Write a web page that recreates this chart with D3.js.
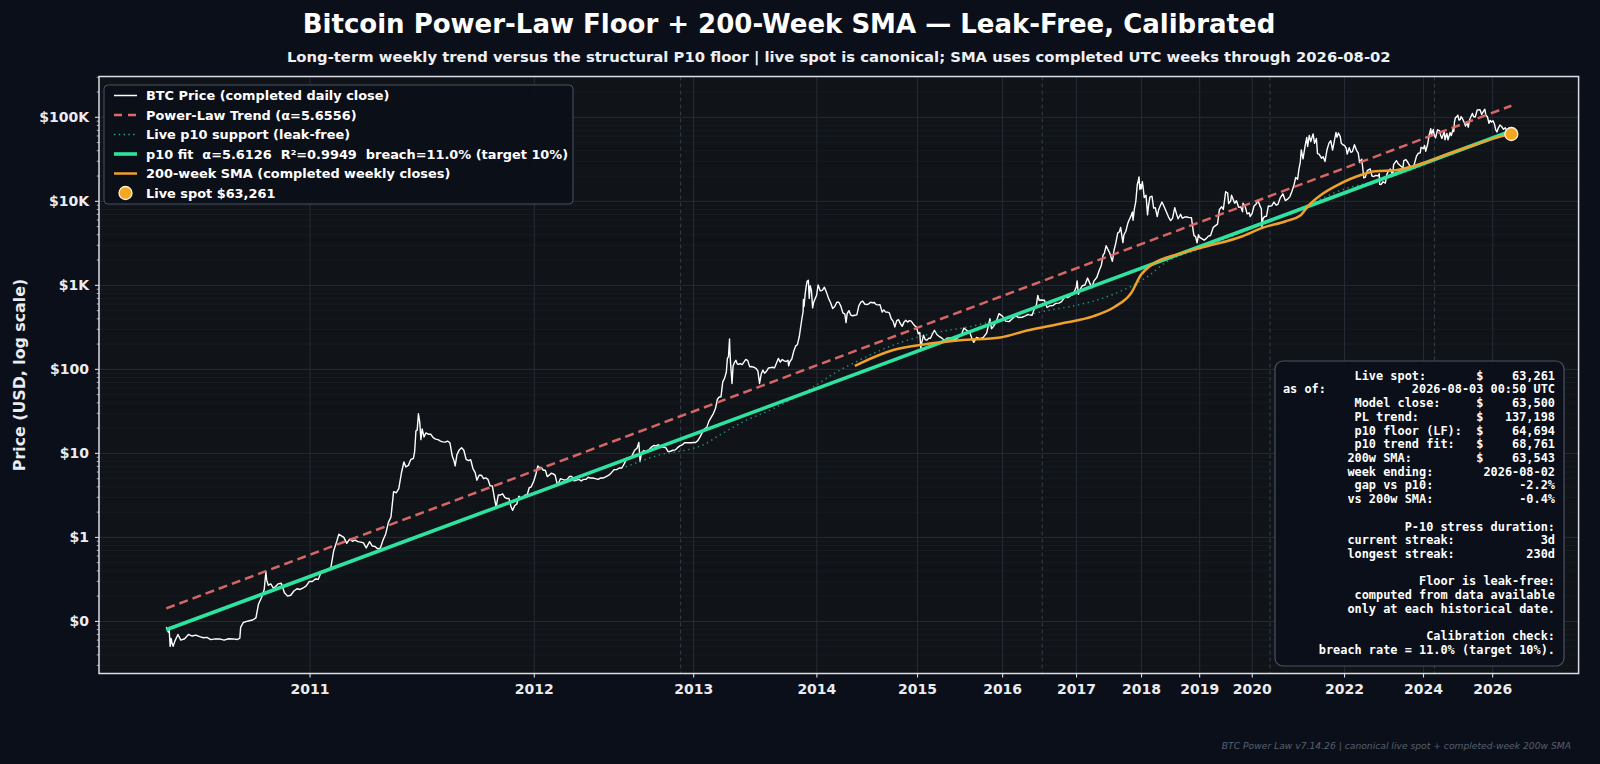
<!DOCTYPE html>
<html><head><meta charset="utf-8">
<script src="https://cdn.jsdelivr.net/npm/d3@7"></script>
<style>
body{margin:0;background:#0b0f19;}
svg{display:block;}
text{font-family:"DejaVu Sans",sans-serif;}
.mono{font-family:"DejaVu Sans Mono",monospace;}
</style>
</head><body>
<svg id="c" width="1600" height="764"></svg>
<script>
// ---------------- DATA ----------------
const genesisDate = "2009-01-03";
const spotDate = "2026-08-03";
const spotValue = 63261;

const btcPrice = [
["2010-07-18",0.0858],["2010-07-19",0.0808],["2010-07-20",0.0747],["2010-07-21",0.0792],["2010-07-22",0.0505],["2010-07-23",0.0626],["2010-07-24",0.0545],["2010-07-25",0.0505],["2010-07-27",0.0589],["2010-07-30",0.0699],["2010-08-02",0.0600],["2010-08-06",0.0622],["2010-08-10",0.0700],["2010-08-14",0.0670],["2010-08-18",0.0688],["2010-08-22",0.0660],["2010-08-26",0.0640],["2010-08-30",0.0645],["2010-09-03",0.0608],["2010-09-08",0.0620],["2010-09-13",0.0619],["2010-09-18",0.0600],["2010-09-23",0.0622],["2010-09-28",0.0619],["2010-10-03",0.0610],["2010-10-06",0.0630],["2010-10-07",0.0850],["2010-10-10",0.0970],["2010-10-14",0.1000],["2010-10-17",0.1020],["2010-10-21",0.1040],["2010-10-25",0.1100],["2010-10-28",0.1600],["2010-11-01",0.1950],["2010-11-04",0.2400],["2010-11-06",0.3900],["2010-11-07",0.3100],["2010-11-09",0.2700],["2010-11-12",0.2800],["2010-11-15",0.2500],["2010-11-18",0.2600],["2010-11-21",0.2800],["2010-11-25",0.2850],["2010-11-29",0.2200],["2010-12-03",0.2000],["2010-12-07",0.2050],["2010-12-11",0.2300],["2010-12-15",0.2450],["2010-12-19",0.2400],["2010-12-23",0.2500],["2010-12-27",0.2650],["2010-12-31",0.3000],
["2011-01-04",0.2990],["2011-01-08",0.3200],["2011-01-12",0.3180],["2011-01-16",0.3900],["2011-01-20",0.4000],["2011-01-25",0.4100],["2011-01-29",0.4400],["2011-02-02",0.7000],["2011-02-06",0.8900],["2011-02-09",1.0900],["2011-02-12",1.0500],["2011-02-16",1.0000],["2011-02-20",0.8500],["2011-02-24",0.9500],["2011-02-28",0.9000],["2011-03-04",0.9300],["2011-03-08",0.8900],["2011-03-12",0.8800],["2011-03-16",0.8600],["2011-03-20",0.7500],["2011-03-25",0.8900],["2011-03-29",0.7900],["2011-04-02",0.7800],["2011-04-06",0.7300],["2011-04-10",0.7500],["2011-04-14",0.9300],["2011-04-18",1.1000],["2011-04-22",1.5000],["2011-04-26",1.7500],["2011-04-30",3.5000],["2011-05-04",3.4000],["2011-05-08",3.8000],["2011-05-12",5.8000],["2011-05-16",7.9000],["2011-05-19",6.9000],["2011-05-23",7.2000],["2011-05-27",8.5000],["2011-05-31",8.7000],["2011-06-02",10.600],["2011-06-04",18.500],["2011-06-06",18.900],["2011-06-08",29.600],["2011-06-10",23.900],["2011-06-12",14.600],["2011-06-14",19.600],["2011-06-17",15.700],["2011-06-20",17.500],["2011-06-24",16.900],["2011-06-28",16.900],["2011-07-02",15.400],["2011-07-06",14.800],["2011-07-10",14.600],["2011-07-14",14.000],["2011-07-18",13.700],["2011-07-22",13.600],["2011-07-26",14.000],["2011-07-30",13.400],["2011-08-03",9.300],["2011-08-06",8.200],["2011-08-08",7.100],["2011-08-11",9.600],["2011-08-15",11.000],["2011-08-19",11.700],["2011-08-23",10.900],["2011-08-27",8.500],["2011-08-31",8.200],["2011-09-04",8.400],["2011-09-08",6.600],["2011-09-12",5.900],["2011-09-15",4.800],["2011-09-19",5.500],["2011-09-23",5.500],["2011-09-27",5.000],["2011-10-01",5.100],["2011-10-05",4.900],["2011-10-09",4.100],["2011-10-13",4.100],["2011-10-17",2.900],["2011-10-20",2.300],["2011-10-24",3.200],["2011-10-28",3.200],["2011-11-01",3.300],["2011-11-05",3.000],["2011-11-09",2.900],["2011-11-13",2.900],["2011-11-17",2.300],["2011-11-20",2.100],["2011-11-24",2.400],["2011-11-28",2.500],["2011-12-02",3.100],["2011-12-06",2.900],["2011-12-10",3.000],["2011-12-14",3.200],["2011-12-18",3.200],["2011-12-22",3.900],["2011-12-26",4.000],["2011-12-31",4.700],
["2012-01-04",5.6],["2012-01-08",7.1],["2012-01-11",6.8],["2012-01-15",6.8],["2012-01-19",6.3],["2012-01-23",6.3],["2012-01-27",5.3],["2012-01-31",5.5],["2012-02-04",5.8],["2012-02-08",5.7],["2012-02-12",5.5],["2012-02-16",4.4],["2012-02-19",4.4],["2012-02-23",5.0],["2012-02-27",4.9],["2012-03-03",4.8],["2012-03-08",4.9],["2012-03-13",5.3],["2012-03-18",5.3],["2012-03-23",4.7],["2012-03-28",4.8],["2012-04-02",4.9],["2012-04-07",4.7],["2012-04-12",4.9],["2012-04-17",4.9],["2012-04-22",5.2],["2012-04-27",5.1],["2012-05-02",5.1],["2012-05-08",5.0],["2012-05-14",4.9],["2012-05-20",5.1],["2012-05-26",5.1],["2012-06-01",5.3],["2012-06-07",5.5],["2012-06-13",5.9],["2012-06-19",6.4],["2012-06-25",6.4],["2012-07-01",6.7],["2012-07-07",6.7],["2012-07-13",7.6],["2012-07-19",8.9],["2012-07-25",8.6],["2012-07-31",9.4],["2012-08-06",10.9],["2012-08-12",11.6],["2012-08-16",13.5],["2012-08-19",8.0],["2012-08-22",10.1],["2012-08-28",10.8],["2012-09-03",10.4],["2012-09-09",11.0],["2012-09-15",11.8],["2012-09-21",12.4],["2012-09-27",12.3],["2012-10-03",12.7],["2012-10-09",11.9],["2012-10-15",11.8],["2012-10-21",11.7],["2012-10-27",10.5],["2012-11-02",10.6],["2012-11-08",10.9],["2012-11-14",11.0],["2012-11-20",11.7],["2012-11-26",12.3],["2012-12-02",12.6],["2012-12-08",13.4],["2012-12-14",13.4],["2012-12-20",13.4],["2012-12-26",13.4],["2012-12-31",13.5],
["2013-01-06",13.5],["2013-01-12",14.2],["2013-01-18",15.7],["2013-01-24",17.8],["2013-01-30",19.6],["2013-02-05",20.4],["2013-02-11",24.2],["2013-02-17",26.8],["2013-02-23",29.8],["2013-03-01",34.5],["2013-03-06",44.0],["2013-03-11",46.9],["2013-03-16",47.0],["2013-03-21",70.9],["2013-03-26",78.0],["2013-03-31",93.0],["2013-04-03",135],["2013-04-06",142],["2013-04-09",230],["2013-04-10",165],["2013-04-12",117],["2013-04-14",90],["2013-04-16",68],["2013-04-19",110],["2013-04-23",121],["2013-04-27",128],["2013-05-01",116],["2013-05-05",115],["2013-05-10",117],["2013-05-15",114],["2013-05-20",122],["2013-05-25",131],["2013-05-31",128],["2013-06-06",107],["2013-06-12",108],["2013-06-18",106],["2013-06-24",103],["2013-06-30",96],["2013-07-05",68],["2013-07-10",88],["2013-07-15",98],["2013-07-20",90],["2013-07-26",95],["2013-08-01",104],["2013-08-07",105],["2013-08-13",106],["2013-08-19",104],["2013-08-25",118],["2013-08-31",135],["2013-09-06",122],["2013-09-12",131],["2013-09-18",126],["2013-09-24",124],["2013-09-30",128],["2013-10-02",110],["2013-10-06",124],["2013-10-12",133],["2013-10-18",164],["2013-10-24",189],["2013-10-30",198],["2013-11-05",248],["2013-11-10",335],["2013-11-14",420],["2013-11-17",485],["2013-11-18",680],["2013-11-20",560],["2013-11-24",800],["2013-11-27",970],["2013-11-30",1120],["2013-12-04",1150],["2013-12-07",700],["2013-12-10",990],["2013-12-14",870],["2013-12-18",540],["2013-12-21",620],["2013-12-25",680],["2013-12-31",760],
["2014-01-05",1010],["2014-01-12",860],["2014-01-19",870],["2014-01-26",950],["2014-02-02",830],["2014-02-09",700],["2014-02-16",620],["2014-02-23",530],["2014-03-02",560],["2014-03-09",630],["2014-03-16",630],["2014-03-23",565],["2014-03-30",470],["2014-04-06",455],["2014-04-10",360],["2014-04-14",460],["2014-04-20",500],["2014-04-27",440],["2014-05-04",435],["2014-05-11",440],["2014-05-18",445],["2014-05-25",570],["2014-06-01",630],["2014-06-08",650],["2014-06-15",600],["2014-06-22",590],["2014-06-29",600],["2014-07-06",630],["2014-07-13",620],["2014-07-20",625],["2014-07-27",590],["2014-08-03",585],["2014-08-10",590],["2014-08-18",480],["2014-08-24",510],["2014-08-31",480],["2014-09-07",480],["2014-09-14",470],["2014-09-21",400],["2014-09-28",375],["2014-10-05",320],["2014-10-12",380],["2014-10-19",390],["2014-10-26",350],["2014-11-02",325],["2014-11-09",365],["2014-11-16",385],["2014-11-23",365],["2014-11-30",380],["2014-12-07",375],["2014-12-14",350],["2014-12-21",330],["2014-12-28",318],
["2015-01-04",265],["2015-01-10",275],["2015-01-14",178],["2015-01-18",210],["2015-01-25",255],["2015-02-01",225],["2015-02-08",223],["2015-02-15",235],["2015-02-22",235],["2015-03-01",260],["2015-03-10",292],["2015-03-20",260],["2015-03-31",245],["2015-04-10",235],["2015-04-20",222],["2015-05-01",235],["2015-05-15",237],["2015-06-01",223],["2015-06-15",237],["2015-07-01",258],["2015-07-12",310],["2015-07-25",290],["2015-08-05",280],["2015-08-18",225],["2015-08-24",210],["2015-09-05",240],["2015-09-20",232],["2015-10-05",240],["2015-10-20",270],["2015-11-04",400],["2015-11-11",305],["2015-11-20",325],["2015-12-01",360],["2015-12-15",460],["2015-12-31",430],
["2016-01-15",375],["2016-01-31",370],["2016-02-15",400],["2016-03-01",435],["2016-03-15",415],["2016-04-01",417],["2016-04-15",430],["2016-05-01",450],["2016-05-20",440],["2016-06-01",535],["2016-06-10",580],["2016-06-17",760],["2016-06-24",665],["2016-07-05",670],["2016-07-20",665],["2016-08-02",545],["2016-08-15",570],["2016-09-01",575],["2016-09-15",610],["2016-10-01",615],["2016-10-15",640],["2016-11-01",730],["2016-11-15",715],["2016-12-01",755],["2016-12-15",780],["2016-12-31",965],
["2017-01-04",1130],["2017-01-11",780],["2017-01-20",895],["2017-02-01",990],["2017-02-15",1010],["2017-03-01",1220],["2017-03-10",1100],["2017-03-24",935],["2017-04-05",1130],["2017-04-20",1240],["2017-05-05",1530],["2017-05-15",1720],["2017-05-25",2300],["2017-06-01",2400],["2017-06-11",2960],["2017-06-20",2700],["2017-07-01",2430],["2017-07-16",1930],["2017-07-25",2600],["2017-08-05",3230],["2017-08-15",4180],["2017-08-25",4350],["2017-09-01",4900],["2017-09-14",3230],["2017-09-20",4000],["2017-10-01",4400],["2017-10-12",5440],["2017-10-20",6000],["2017-11-01",6750],["2017-11-08",7460],["2017-11-12",5950],["2017-11-20",8200],["2017-11-28",9900],["2017-12-07",16000],["2017-12-12",17300],["2017-12-17",19500],["2017-12-22",13800],["2017-12-27",15800],["2017-12-31",14150],
["2018-01-06",17100],["2018-01-12",13900],["2018-01-17",11100],["2018-01-28",11800],["2018-02-06",6900],["2018-02-12",8900],["2018-02-20",11200],["2018-03-05",11500],["2018-03-15",8300],["2018-03-25",8400],["2018-04-06",6600],["2018-04-15",8000],["2018-04-25",8900],["2018-05-05",9800],["2018-05-20",8500],["2018-06-01",7500],["2018-06-15",6500],["2018-06-28",5900],["2018-07-10",6300],["2018-07-24",8400],["2018-08-05",7000],["2018-08-14",6200],["2018-08-30",7000],["2018-09-10",6300],["2018-09-25",6500],["2018-10-10",6500],["2018-10-25",6400],["2018-11-08",6400],["2018-11-20",4400],["2018-11-25",3900],["2018-12-05",3800],["2018-12-15",3200],["2018-12-24",4000],["2018-12-31",3740],
["2019-01-15",3600],["2019-01-31",3450],["2019-02-15",3620],["2019-02-28",3850],["2019-03-15",3920],["2019-04-02",4900],["2019-04-15",5100],["2019-05-01",5350],["2019-05-14",8000],["2019-05-30",8600],["2019-06-10",8000],["2019-06-26",13000],["2019-07-10",12500],["2019-07-17",9400],["2019-07-31",10100],["2019-08-06",11800],["2019-08-28",9500],["2019-09-10",10150],["2019-09-25",8500],["2019-10-10",8600],["2019-10-23",7500],["2019-10-26",9500],["2019-11-10",8800],["2019-11-25",7100],["2019-12-10",7300],["2019-12-17",6600],["2019-12-31",7200],
["2020-01-14",8800],["2020-01-31",9350],["2020-02-12",10300],["2020-02-28",8700],["2020-03-08",8100],["2020-03-12",4970],["2020-03-20",6200],["2020-04-01",6600],["2020-04-15",6650],["2020-04-29",8800],["2020-05-10",8700],["2020-05-25",8900],["2020-06-10",9800],["2020-06-27",9000],["2020-07-10",9200],["2020-07-28",11000],["2020-08-17",12300],["2020-09-05",10200],["2020-09-25",10700],["2020-10-10",11300],["2020-10-25",13000],["2020-11-10",15300],["2020-11-25",19200],["2020-12-10",18300],["2020-12-20",24000],["2020-12-31",29000],
["2021-01-08",41000],["2021-01-22",32000],["2021-02-08",46000],["2021-02-21",57500],["2021-02-28",45000],["2021-03-13",61000],["2021-03-25",51500],["2021-04-13",63500],["2021-04-25",49000],["2021-05-10",56000],["2021-05-19",37000],["2021-06-01",36500],["2021-06-22",32500],["2021-07-05",34000],["2021-07-20",29800],["2021-08-05",40800],["2021-08-22",49300],["2021-09-06",52600],["2021-09-21",40700],["2021-10-05",51500],["2021-10-20",66000],["2021-10-28",58000],["2021-11-10",65000],["2021-11-25",58900],["2021-12-04",49000],["2021-12-20",46800],["2021-12-31",46300],
["2022-01-15",43000],["2022-01-24",36500],["2022-02-10",43500],["2022-02-24",38300],["2022-03-10",39000],["2022-03-28",47100],["2022-04-15",40500],["2022-04-30",37700],["2022-05-12",29000],["2022-05-31",31800],["2022-06-13",22500],["2022-06-18",19000],["2022-07-01",19300],["2022-07-20",23200],["2022-08-15",24300],["2022-08-31",20000],["2022-09-15",19700],["2022-10-05",20300],["2022-10-25",20100],["2022-11-05",21300],["2022-11-09",15900],["2022-11-21",15800],["2022-12-10",17100],["2022-12-31",16500],
["2023-01-14",20900],["2023-01-31",23100],["2023-02-16",24300],["2023-03-10",20200],["2023-03-18",27400],["2023-04-14",30500],["2023-05-01",28000],["2023-05-25",26300],["2023-06-15",25000],["2023-06-23",30600],["2023-07-13",31400],["2023-07-31",29200],["2023-08-17",26600],["2023-09-11",25100],["2023-09-30",27000],["2023-10-24",34500],["2023-11-10",37300],["2023-11-30",37700],["2023-12-08",44000],["2023-12-31",42300],
["2024-01-11",46300],["2024-01-23",39500],["2024-02-10",47100],["2024-02-28",62500],["2024-03-14",73100],["2024-03-20",62000],["2024-04-08",71600],["2024-04-17",61300],["2024-05-01",57000],["2024-05-21",71000],["2024-06-10",69500],["2024-06-24",60300],["2024-07-05",56000],["2024-07-29",68000],["2024-08-05",54000],["2024-08-25",64200],["2024-09-06",53900],["2024-09-27",65800],["2024-10-10",60500],["2024-10-29",72500],["2024-11-05",67800],["2024-11-12",88000],["2024-11-22",98900],["2024-12-05",101000],["2024-12-17",106000],["2024-12-30",92700],
["2025-01-13",94500],["2025-01-20",102000],["2025-02-03",97500],["2025-02-28",84300],["2025-03-10",78500],["2025-03-24",87500],["2025-04-08",76300],["2025-04-22",93500],["2025-05-22",111000],["2025-06-05",101500],["2025-06-22",101000],["2025-07-14",122000],["2025-08-13",123500],["2025-09-01",108000],["2025-09-18",117000],["2025-10-06",124700],["2025-10-17",106500],["2025-11-04",101000],["2025-11-21",85000],["2025-12-05",92000],["2025-12-20",88000],
["2026-01-05",91000],["2026-01-20",84000],["2026-02-05",71000],["2026-02-19",67000],["2026-03-05",74000],["2026-03-25",81000],["2026-04-15",77000],["2026-05-05",72000],["2026-05-25",75000],["2026-06-15",68000],["2026-07-05",70000],["2026-07-20",65500],["2026-08-02",63500]
];

// power-law trend lines (straight on log-log), endpoints
const plTrend = [["2010-07-18",0.143],["2026-08-03",137198]];
const p10Fit  = [["2010-07-18",0.0795],["2026-08-03",68761]];

// live (leak-free) p10 support
const p10Support = [
["2012-07-16",6.9],["2012-10-06",9.6],["2012-12-31",11.5],["2013-01-26",12.6],["2013-03-13",16.6],["2013-05-29",25],["2013-08-15",34],["2013-10-16",45],["2013-12-21",62],["2014-03-01",90],["2014-05-30",130],["2014-09-01",180],["2014-12-30",240],["2015-04-01",280],["2015-08-01",320],["2015-12-01",380],["2016-04-01",430],["2016-08-01",500],["2016-12-01",560],["2017-04-01",650],["2017-08-01",800],["2017-12-01",1050],["2018-02-01",1250],["2018-06-01",1900],["2019-01-01",2700],["2020-01-01",4800],["2021-01-01",8300],["2022-01-01",14000],["2023-01-01",18500],["2024-01-01",27000],["2025-01-01",40000],["2026-01-01",57000],["2026-08-03",64694]
];

// 200-week SMA of completed weekly closes
const sma200w = [
["2014-05-11",110],["2014-05-30",118],["2014-09-29",170],["2015-02-07",200],["2015-06-25",222],["2015-12-21",240],["2016-04-26",290],["2016-10-08",350],["2017-04-03",430],["2017-08-01",560],["2017-10-30",800],["2017-12-30",1343],["2018-03-02",1750],["2018-08-20",2370],["2019-02-17",2913],["2019-10-12",3790],["2020-03-10",4800],["2020-09-09",5800],["2020-12-25",6680],["2021-03-18",9290],["2021-06-10",11760],["2021-11-02",15630],["2022-05-29",20740],["2022-09-29",22770],["2023-04-09",23430],["2023-09-20",26240],["2024-02-03",29380],["2024-09-02",36560],["2025-06-21",47200],["2026-02-05",56900],["2026-08-02",63543]
];

const yTickValues = [0.1, 1, 10, 100, 1000, 10000, 100000];
const yTickLabels = ["$0","$1","$10","$100","$1K","$10K","$100K"];
const yearTicks = ["2011","2012","2013","2014","2015","2016","2017","2018","2019","2020","2022","2024","2026"];
const halvings = ["2012-11-28","2016-07-09","2020-05-11","2024-04-20"];
const yLimits = [0.024, 306000];

const legendLabels = [
 "BTC Price (completed daily close)",
 "Power-Law Trend (α=5.6556)",
 "Live p10 support (leak-free)",
 "p10 fit  α=5.6126  R²=0.9949  breach=11.0% (target 10%)",
 "200-week SMA (completed weekly closes)",
 "Live spot $63,261"
];

const infoLines = [
"Live spot:       $    63,261",
"as of:            2026-08-03 00:50 UTC",
"Model close:     $    63,500",
"PL trend:        $   137,198",
"p10 floor (LF):  $    64,694",
"p10 trend fit:   $    68,761",
"200w SMA:         $    63,543",
"week ending:       2026-08-02",
"gap vs p10:            -2.2%",
"vs 200w SMA:            -0.4%",
"",
"P-10 stress duration:",
"current streak:            3d",
"longest streak:          230d",
"",
"Floor is leak-free:",
"computed from data available",
"only at each historical date.",
"",
"Calibration check:",
"breach rate = 11.0% (target 10%)."
];

const titleText = "Bitcoin Power-Law Floor + 200-Week SMA — Leak-Free, Calibrated";
const subtitleText = "Long-term weekly trend versus the structural P10 floor | live spot is canonical; SMA uses completed UTC weeks through 2026-08-02";
const footerText = "BTC Power Law v7.14.26 | canonical live spot + completed-week 200w SMA";

// ---------------- CHART ----------------
const W = 1600, H = 764;
const M = {l: 99, r: 1578.6, t: 76.5, b: 673.5};
const C = {
  fig: "#0b0f19", plot: "#101418", spine: "#d9dde5",
  gridMajor: "#262c37", gridMinor: "#181d25", halving: "#363d4a",
  price: "#ffffff", pl: "#e06a6a", p10s: "#2aa88e", p10f: "#2ee39f", sma: "#f0a12c", spot: "#f5a623"
};
const g0 = Date.UTC(2009,0,3);
const dayNum = s => (Date.parse(s + "T00:00:00Z") - g0) / 864e5;

const svg = d3.select("#c");
svg.append("rect").attr("width", W).attr("height", H).attr("fill", C.fig);
svg.append("rect").attr("x", M.l).attr("y", M.t).attr("width", M.r - M.l).attr("height", M.b - M.t).attr("fill", C.plot);

const allDays = btcPrice.map(d => dayNum(d[0])).concat([dayNum(spotDate)]);
const lo = Math.log10(d3.min(allDays)), hi = Math.log10(d3.max(allDays));
const pad = (hi - lo) * 0.05;
const x = d3.scaleLog().domain([10 ** (lo - pad), 10 ** (hi + pad)]).range([M.l, M.r]);
const y = d3.scaleLog().domain(yLimits).range([M.b, M.t]);

svg.append("defs").append("clipPath").attr("id", "clip")
  .append("rect").attr("x", M.l).attr("y", M.t).attr("width", M.r - M.l).attr("height", M.b - M.t);

// minor + major horizontal grid
const minorVals = [];
for (let e = -2; e <= 5; e++) for (let k = 2; k <= 9; k++) {
  const v = k * 10 ** e; if (v > yLimits[0] && v < yLimits[1]) minorVals.push(v);
}
const grid = svg.append("g");
grid.selectAll(".mn").data(minorVals).join("line")
  .attr("x1", M.l).attr("x2", M.r).attr("y1", d => y(d)).attr("y2", d => y(d))
  .attr("stroke", C.gridMinor).attr("stroke-width", 0.8);
grid.selectAll(".mj").data(yTickValues).join("line")
  .attr("x1", M.l).attr("x2", M.r).attr("y1", d => y(d)).attr("y2", d => y(d))
  .attr("stroke", C.gridMajor).attr("stroke-width", 1);
grid.selectAll(".vx").data(yearTicks).join("line")
  .attr("x1", d => x(dayNum(d + "-01-01"))).attr("x2", d => x(dayNum(d + "-01-01")))
  .attr("y1", M.t).attr("y2", M.b).attr("stroke", C.gridMajor).attr("stroke-width", 1);
grid.selectAll(".hv").data(halvings).join("line")
  .attr("x1", d => x(dayNum(d))).attr("x2", d => x(dayNum(d)))
  .attr("y1", M.t).attr("y2", M.b).attr("stroke", C.halving).attr("stroke-width", 1)
  .attr("stroke-dasharray", "4,3");

// series
const line = d3.line().x(d => x(dayNum(d[0]))).y(d => y(d[1]));
const smooth = d3.line().x(d => x(dayNum(d[0]))).y(d => y(d[1])).curve(d3.curveMonotoneX);
const plot = svg.append("g").attr("clip-path", "url(#clip)");

plot.append("path").datum(btcPrice).attr("d", line).attr("fill", "none")
  .attr("stroke", C.price).attr("stroke-width", 1.4).attr("stroke-linejoin", "round");
plot.append("path").datum(plTrend).attr("d", line).attr("fill", "none")
  .attr("stroke", C.pl).attr("stroke-width", 2.5).attr("stroke-dasharray", "9,5").attr("opacity", 0.95);
plot.append("path").datum(p10Support).attr("d", smooth).attr("fill", "none")
  .attr("stroke", C.p10s).attr("stroke-width", 1.4).attr("stroke-dasharray", "1.4,3.6").attr("opacity", 0.85);
plot.append("path").datum(p10Fit).attr("d", line).attr("fill", "none")
  .attr("stroke", C.p10f).attr("stroke-width", 3.6);
plot.append("path").datum(sma200w).attr("d", smooth).attr("fill", "none")
  .attr("stroke", C.sma).attr("stroke-width", 2.5);
plot.append("circle").attr("cx", x(dayNum(spotDate))).attr("cy", y(spotValue)).attr("r", 6.5)
  .attr("fill", C.spot).attr("stroke", "#fff3d6").attr("stroke-width", 1.3);

// spines
svg.append("rect").attr("x", M.l).attr("y", M.t).attr("width", M.r - M.l).attr("height", M.b - M.t)
  .attr("fill", "none").attr("stroke", C.spine).attr("stroke-width", 1.5);

// y ticks
const ax = svg.append("g");
ax.selectAll(".ymt").data(minorVals).join("line")
  .attr("x1", M.l - 2.2).attr("x2", M.l).attr("y1", d => y(d)).attr("y2", d => y(d))
  .attr("stroke", C.spine).attr("stroke-width", 0.8);
ax.selectAll(".yMt").data(yTickValues).join("line")
  .attr("x1", M.l - 4).attr("x2", M.l).attr("y1", d => y(d)).attr("y2", d => y(d))
  .attr("stroke", C.spine).attr("stroke-width", 1.1);
ax.selectAll(".ytl").data(yTickValues).join("text")
  .attr("x", M.l - 10).attr("y", d => y(d)).attr("dy", "0.35em").attr("text-anchor", "end")
  .attr("fill", "#e9ecf1").attr("font-size", 14).attr("font-weight", "bold")
  .text((d, i) => yTickLabels[i]);

// x ticks
ax.selectAll(".xt").data(yearTicks).join("line")
  .attr("x1", d => x(dayNum(d + "-01-01"))).attr("x2", d => x(dayNum(d + "-01-01")))
  .attr("y1", M.b).attr("y2", M.b + 4).attr("stroke", C.spine).attr("stroke-width", 1.1);
ax.selectAll(".xtl").data(yearTicks).join("text")
  .attr("x", d => x(dayNum(d + "-01-01"))).attr("y", M.b + 20).attr("text-anchor", "middle")
  .attr("fill", "#e9ecf1").attr("font-size", 14).attr("font-weight", "bold").text(d => d);

// axis label
svg.append("text").attr("transform", `translate(25,${(M.t + M.b) / 2}) rotate(-90)`)
  .attr("text-anchor", "middle").attr("fill", "#e9ecf1").attr("font-size", 15.8).attr("font-weight", "bold")
  .text("Price (USD, log scale)");

// titles
svg.append("text").attr("x", 789).attr("y", 33).attr("text-anchor", "middle")
  .attr("fill", "#ffffff").attr("font-size", 26).attr("font-weight", "bold").text(titleText);
svg.append("text").attr("x", (M.l + M.r) / 2).attr("y", 61.5).attr("text-anchor", "middle")
  .attr("fill", "#eceff4").attr("font-size", 14.8).attr("font-weight", "bold").text(subtitleText);
svg.append("text").attr("x", 1571).attr("y", 749).attr("text-anchor", "end")
  .attr("fill", "#566070").attr("font-size", 9.2).attr("font-style", "italic").text(footerText);

// legend
const lg = svg.append("g");
lg.append("rect").attr("x", 104).attr("y", 85).attr("width", 469).attr("height", 119).attr("rx", 4)
  .attr("fill", "#0b0f19").attr("fill-opacity", 0.92).attr("stroke", "#4a5262").attr("stroke-width", 1);
const rowY = i => 95.5 + i * 19.5;
const hx1 = 114, hx2 = 137;
const handles = [
  {stroke: C.price, w: 1.5, dash: null},
  {stroke: C.pl, w: 2.5, dash: "8,6"},
  {stroke: C.p10s, w: 1.4, dash: "1.4,3.4"},
  {stroke: C.p10f, w: 3.6, dash: null},
  {stroke: C.sma, w: 2.5, dash: null}
];
handles.forEach((h, i) => {
  lg.append("line").attr("x1", hx1).attr("x2", hx2).attr("y1", rowY(i)).attr("y2", rowY(i))
    .attr("stroke", h.stroke).attr("stroke-width", h.w).attr("stroke-dasharray", h.dash);
});
lg.append("circle").attr("cx", (hx1 + hx2) / 2).attr("cy", rowY(5)).attr("r", 6.5)
  .attr("fill", C.spot).attr("stroke", "#fff3d6").attr("stroke-width", 1.3);
lg.selectAll(".lt").data(legendLabels).join("text")
  .attr("x", 146).attr("y", (d, i) => rowY(i)).attr("dy", "0.35em")
  .attr("fill", "#ffffff").attr("font-size", 12.9).attr("font-weight", "bold")
  .style("white-space", "pre").text(d => d);

// info box
const ib = svg.append("g");
ib.append("rect").attr("x", 1275).attr("y", 361).attr("width", 289).attr("height", 305).attr("rx", 8)
  .attr("fill", "#0b0f19").attr("fill-opacity", 0.95).attr("stroke", "#4a5262").attr("stroke-width", 1.2);
ib.selectAll(".il").data(infoLines).join("text").attr("class", "mono")
  .attr("x", 1555).attr("y", (d, i) => 375.5 + i * 13.72).attr("dy", "0.35em").attr("text-anchor", "end")
  .attr("fill", "#ffffff").attr("font-size", 11.9).attr("font-weight", "bold")
  .style("white-space", "pre").text(d => d);
</script>
</body></html>
